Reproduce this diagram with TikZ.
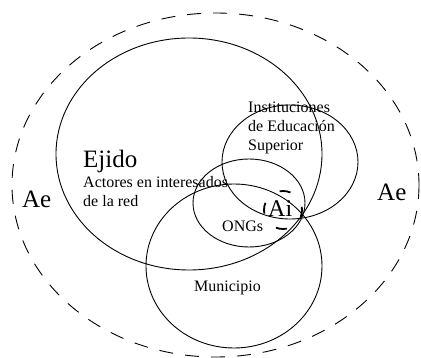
\documentclass[tikz,border=0pt]{standalone}
\usepackage{fontspec}
\setmainfont{Liberation Serif}
\begin{document}
\begin{tikzpicture}[x=1pt,y=-1pt,
  ring/.style={draw=black,line width=0.9pt},
  outer/.style={draw=black,line width=0.9pt,dash pattern=on 14pt off 12pt},
  inner/.style={draw=black,line width=1.8pt,dash pattern=on 11pt off 19pt,dash phase=4pt},
  lbl/.style={anchor=base west,inner sep=0pt,font=\fontsize{16}{19}\selectfont,align=left},
  big/.style={anchor=base west,inner sep=0pt,font=\fontsize{25}{28}\selectfont}]
\useasboundingbox (0,0) rectangle (421,358);
\draw[outer] (215.5,185) ellipse [x radius=203.5, y radius=172];
\draw[ring] (189,154) ellipse [x radius=133, y radius=116];
\draw[ring] (290,162) ellipse [x radius=68, y radius=57];
\draw[ring] (249,203) ellipse [x radius=56, y radius=44];
\draw[ring] (234,266) ellipse [x radius=88, y radius=82];
\draw[inner] (283,210) circle [radius=19];
\node[big] (ejido) at (83,168) {Ejido};
\node[lbl] (actores) at (83,188) {Actores en interesados};
\node[lbl] (red) at (83,207) {de la red};
\node[lbl] (ies) at (248,151) {Instituciones\\de Educación\\Superior};
\node[big,font=\fontsize{24}{28}\selectfont] (ai) at (268,217) {Ai};
\node[lbl] (ongs) at (222,232) {ONGs};
\node[lbl] (mun) at (194,292) {Municipio};
\node[big] (ae1) at (22,208) {Ae};
\node[big] (ae2) at (377,201) {Ae};
\end{tikzpicture}
\end{document}
